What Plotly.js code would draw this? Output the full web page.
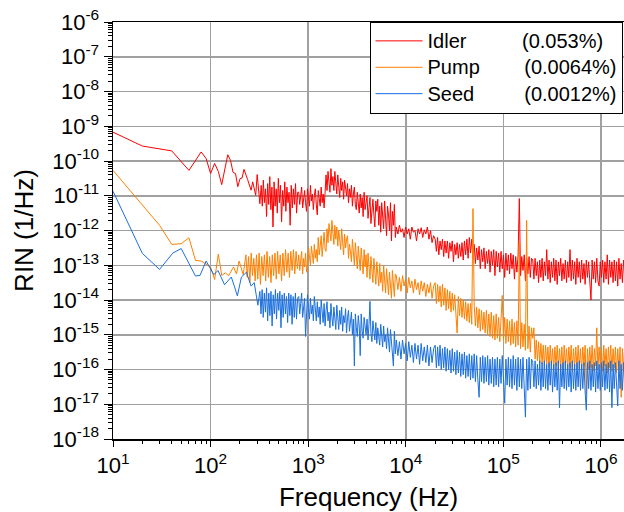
<!DOCTYPE html>
<html><head><meta charset="utf-8">
<script src="https://cdn.plot.ly/plotly-3.0.1.min.js"></script>
<style>html,body{margin:0;padding:0;overflow:hidden;background:#fff}</style>
</head><body><div id="chart" style="width:624px;height:512px"></div>
<script>
// ---------- data (values are log10 of RIN in 1/Hz) ----------
const seriesNames = ['Idler', 'Pump', 'Seed'];
const seriesRms = ['(0.053%)', '(0.0064%)', '(0.0012%)'];
const xTickExp = [1, 2, 3, 4, 5, 6];
const yTickExp = [-18, -17, -16, -15, -14, -13, -12, -11, -10, -9, -8, -7, -6];
// analyzer span edges (Hz) used after the low-frequency points
const spanEdges = [800, 8000, 20000, 200000, 1800000];

const idlerLowF = [10, 20, 40, 60, 80, 90, 100, 110, 120, 130, 150, 160, 170, 180, 190, 200, 210, 220, 240, 260, 270, 290, 300, 320];
const idlerLowY = [-9.17, -9.57, -9.71, -10.27, -9.74, -9.93, -10.36, -10.07, -10.3, -10.68, -9.82, -9.98, -10.33, -10.36, -10.74, -10.51, -10.49, -10.24, -10.54, -10.84, -10.6, -10.99, -10.39, -11.23];
const idlerStart = 330;
const idlerSpan1 = [-10.7,-11.3,-10.55,-11.2,-10.8,-11.6,-10.65,-11.25,-10.45,-11.4,-10.75,-11.9,-10.6,-11.3,-10.8,-11.5,-10.5,-11.2,-10.7,-11.75,-10.85,-11.3,-10.6,-11.45,-10.75,-11.2,-10.9,-11.85,-10.7,-11.35,-10.8,-11.25,-10.65,-11.5,-10.9];
const idlerSpan2 = [-10.9,-11.25,-11.0,-10.75,-11.35,-11.1,-10.85,-11.2,-11.45,-10.8,
  -11.05,-11.3,-10.7,-11.15,-10.95,-11.4,-11.0,-10.8,-11.25,-11.55,
  -10.85,-11.1,-11.3,-10.75,-11.2,-10.95,-11.35,-10.9,-10.4,-10.85,
  -10.3,-10.6,-10.9,-10.22,-10.7,-10.45,-10.85,-10.3,-10.55,-10.95,
  -10.4,-10.75,-11.05,-10.5,-10.85,-10.6,-11.1,-10.55,-10.9,-11.0,
  -10.65,-11.2,-10.8,-11.05,-10.7,-11.3,-10.95,-10.75,-11.25,-11.4,
  -10.9,-11.2,-11.5,-10.95,-11.35,-11.05,-11.6,-10.9,-11.4,-11.2,
  -11.0,-11.65,-11.3,-11.05,-11.8,-11.4,-11.1,-11.55,-11.9,-11.15,
  -11.45,-11.1,-11.85,-11.3,-12.05,-11.2,-11.6,-11.95,-11.15,-11.7,
  -12.15,-11.3,-11.55,-12.0,-11.2,-12.3,-11.45,-11.85,-11.25,-12.2];
const idlerSpan3 = [-11.9,-12.1,-11.85,-12.05,-11.95,-12.2,-11.9,-12.1,-11.95,-12.25,-11.9,-12.05,-12.0,-12.3,-11.95,-12.1,-11.92,-12.2,-11.98,-12.1,-11.9,-12.25,-12.0,-12.35,-12.15];
const idlerSpan4 = [-12.25,-12.6,-12.2,-12.7,-12.3,-12.55,-12.25,-12.75,-12.3,-12.65,
  -12.3,-12.8,-12.35,-12.6,-12.3,-12.9,-12.4,-12.7,-12.35,-12.8,
  -12.4,-12.75,-12.35,-12.85,-12.3,-12.7,-12.25,-12.8,-12.2,-12.65,
  -12.25,-12.8,-12.4,-12.95,-12.5,-12.85,-12.45,-13.1,-12.55,-12.9,
  -12.5,-13.1,-12.6,-12.95,-12.55,-13.2,-12.6,-13.0,-12.55,-13.3,
  -12.6,-13.05,-12.65,-13.2,-12.6,-13.1,-12.7,-13.35,-12.65,-13.15,
  -12.7,-13.25,-12.65,-13.1,-12.7,-13.4,-12.75,-13.2,-12.7,-11.08,
  -13.3,-12.75,-13.15,-12.7,-13.45,-12.8,-13.25,-12.75,-13.35,-12.8];
const idlerSpan5 = [-12.85,-13.4,-12.8,-13.3,-12.9,-13.5,-12.85,-13.35,-12.8,-13.45,
  -12.9,-13.3,-12.55,-13.4,-12.85,-13.5,-12.9,-13.35,-12.8,-13.45,
  -12.85,-13.55,-12.9,-13.3,-12.8,-13.45,-12.95,-13.4,-12.85,-13.5,
  -12.9,-13.35,-12.55,-13.45,-12.85,-13.4,-12.9,-13.55,-12.8,-13.35,
  -12.9,-13.5,-12.85,-13.4,-12.95,-13.55,-12.85,-13.35,-12.9,-13.45,
  -14.0,-12.85,-13.4,-12.9,-13.5,-12.8,-13.45,-13.6,-12.9,-13.35,
  -12.85,-13.5,-12.9,-13.4,-12.7,-13.55,-12.85,-13.35,-12.9,-13.5,
  -12.85,-13.45,-12.9,-13.6,-12.8,-13.4,-12.95,-13.5,-12.85,-13.35];

const pumpLowF = [10, 30, 40, 50, 60, 70, 80, 100, 110, 120, 130, 142, 153, 172, 184, 196, 216];
const pumpLowY = [-10.27, -11.85, -12.4, -12.38, -12.21, -12.86, -12.88, -13.05, -13.41, -12.68, -13.29, -13.22, -13.3, -13.05, -13.25, -12.88, -13.27];
const pumpStart = 230;
const pumpSpan1 = [-12.7,-13.35,-12.75,-13.5,-12.65,-13.3,-12.8,-13.45,-12.7,-13.4,-12.65,-13.55,-12.75,-13.3,-12.7,-13.45,-12.6,-13.35,-12.75,-13.5,-12.7,-13.3,-12.65,-13.4,-12.6,-13.25,-12.7,-13.45,-12.65,-13.3,-12.55,-13.2,-12.65,-13.35,-12.6,-13.15,-12.55,-13.25,-12.6,-13.1];
const pumpSpan2 = [-12.7,-13.15,-12.9,-12.6,-13.25,-12.8,-13.05,-12.65,-13.2,-12.95,
  -12.5,-12.85,-13.0,-12.45,-12.75,-12.95,-12.4,-12.8,-12.55,-12.9,
  -12.2,-12.7,-12.45,-12.15,-12.75,-12.3,-12.05,-12.55,-12.6,-11.95,
  -12.35,-11.8,-12.1,-12.3,-11.71,-12.0,-12.4,-11.85,-12.25,-11.9,
  -12.45,-12.0,-12.2,-12.55,-11.95,-12.35,-12.7,-12.1,-12.5,-12.25,
  -12.15,-12.8,-12.4,-12.6,-12.9,-12.25,-12.7,-13.0,-12.35,-12.65,
  -13.1,-12.45,-12.8,-13.15,-12.5,-12.95,-13.25,-12.55,-13.05,-12.7,
  -13.35,-12.65,-13.0,-13.4,-12.75,-13.2,-13.5,-12.8,-13.1,-13.55,
  -12.9,-13.35,-13.6,-12.95,-13.5,-13.2,-13.75,-13.0,-13.45,-13.8,
  -13.1,-13.6,-13.85,-13.2,-13.5,-13.95,-13.15,-13.7,-13.9,-13.25];
const pumpSpan3 = [-13.3,-13.7,-13.35,-13.75,-13.3,-13.6,-13.4,-13.8,-13.35,-13.65,-13.45,-13.8,-13.4,-13.7,-13.5,-13.85,-13.45,-13.75,-13.5,-13.9,-13.55,-13.8,-13.5,-13.95,-13.6];
const pumpSpan4 = [-13.5,-14.1,-13.55,-14.05,-13.6,-14.2,-13.55,-14.15,-13.65,-14.3,
  -13.7,-14.25,-13.75,-14.35,-13.8,-14.3,-13.85,-14.4,-14.95,-13.9,
  -14.45,-13.95,-14.5,-14.0,-14.55,-14.05,-14.6,-14.1,-14.65,-14.1,
  -14.7,-11.37,-14.15,-14.75,-14.2,-14.8,-14.25,-14.9,-14.3,-14.85,
  -14.35,-14.95,-14.3,-15.0,-14.4,-15.05,-14.35,-15.1,-14.45,-15.15,
  -14.4,-15.1,-14.5,-15.2,-14.45,-13.87,-15.15,-14.5,-15.25,-14.55,
  -15.2,-14.6,-15.3,-14.55,-15.25,-14.65,-15.35,-14.6,-15.3,-12.33,
  -15.4,-14.65,-15.35,-14.7,-15.45,-11.71,-15.4,-14.75,-15.5,-14.8];
const pumpSpan5 = [-15.1,-14.8,-15.7,-15.15,-15.75,-15.2,-15.8,-15.25,-15.85,-15.3,
  -15.9,-15.3,-15.85,-15.35,-15.95,-15.3,-15.9,-15.4,-16.0,-15.35,
  -15.9,-15.3,-16.0,-15.4,-15.95,-15.35,-16.05,-15.3,-15.9,-15.4,
  -16.0,-15.35,-15.95,-15.3,-16.05,-15.4,-15.9,-15.35,-16.0,-15.3,
  -15.95,-15.4,-16.05,-15.35,-15.9,-15.3,-16.7,-15.4,-16.0,-15.35,
  -15.95,-15.3,-16.05,-15.4,-15.9,-14.8,-16.0,-15.35,-15.95,-15.4,
  -16.05,-15.3,-15.9,-15.4,-16.1,-15.35,-15.95,-15.3,-16.05,-15.4,
  -15.95,-15.35,-16.1,-15.4,-16.0,-15.35,-16.8,-15.4,-16.05,-15.3];

const seedLowF = [10, 20, 30, 41, 50, 70, 78, 90, 108, 119, 139, 150, 163, 175, 188, 207, 233, 260, 280, 305];
const seedLowY = [-10.87, -12.66, -13.12, -12.65, -12.52, -13.31, -13.29, -12.88, -13.27, -13.15, -13.56, -13.45, -13.34, -13.6, -13.88, -13.34, -13.2, -13.6, -13.5, -14.15];
const seedStart = 320;
const seedSpan1 = [-13.75,-14.4,-13.7,-14.5,-13.8,-14.35,-13.65,-14.6,-13.8,-14.45,-13.75,-14.75,-13.85,-14.4,-13.7,-14.55,-13.8,-14.3,-13.75,-14.8,-13.85,-14.5,-13.8,-14.4,-13.9,-14.65,-13.8,-14.45,-13.85,-14.7,-13.9,-14.5,-13.8,-14.55,-13.95];
const seedSpan2 = [-13.9,-14.4,-14.1,-13.8,-14.5,-14.2,-13.95,-15.05,-14.3,-13.85,
  -14.25,-14.55,-13.95,-14.4,-14.15,-14.6,-13.9,-14.35,-14.6,-14.05,
  -14.5,-14.2,-14.7,-14.0,-14.45,-14.65,-14.1,-14.75,-14.3,-14.05,
  -14.6,-14.35,-14.8,-14.1,-14.5,-14.75,-14.2,-14.6,-14.85,-14.15,
  -14.55,-14.85,-14.3,-14.7,-14.2,-14.9,-14.45,-14.65,-14.25,-14.95,
  -14.5,-14.3,-14.9,-14.6,-14.35,-15.0,-14.55,-15.9,-14.4,-14.8,
  -15.05,-14.45,-14.75,-15.6,-14.4,-14.9,-15.1,-14.5,-14.85,-15.0,
  -14.55,-15.15,-14.7,-14.04,-14.95,-15.2,-14.6,-14.9,-15.15,-14.65,
  -15.25,-14.8,-15.05,-15.3,-14.7,-15.1,-15.35,-14.75,-15.2,-15.0,
  -15.4,-14.8,-15.25,-15.5,-14.85,-15.3,-15.45,-15.9,-14.9,-15.55];
const seedSpan3 = [-15.15,-15.6,-15.2,-15.7,-15.15,-15.55,-15.25,-15.75,-15.2,-15.65,-15.3,-15.8,-15.25,-15.7,-15.3,-15.85,-15.25,-15.75,-15.35,-15.8,-15.3,-15.9,-15.35,-15.8,-15.4];
const seedSpan4 = [-15.3,-15.95,-15.35,-15.9,-15.3,-16.0,-15.4,-15.95,-15.35,-16.05,
  -15.4,-16.0,-15.45,-16.1,-15.4,-16.05,-15.5,-16.15,-15.45,-16.1,
  -15.5,-16.2,-15.55,-16.15,-15.5,-16.25,-15.6,-16.2,-15.55,-16.3,
  -15.6,-16.25,-15.55,-16.35,-15.6,-16.3,-16.8,-15.65,-16.35,-15.6,
  -16.4,-15.65,-16.35,-15.6,-16.45,-15.7,-16.4,-15.65,-16.5,-15.7,
  -16.45,-15.65,-16.5,-15.7,-16.4,-15.6,-16.55,-16.97,-15.7,-16.45,
  -15.65,-16.5,-15.7,-16.55,-15.6,-16.45,-15.7,-16.6,-15.65,-16.5,
  -15.7,-16.55,-15.65,-16.5,-17.37,-15.7,-16.6,-15.65,-16.55,-15.7];
const seedSpan5 = [-15.8,-16.5,-15.75,-16.55,-15.85,-16.45,-15.75,-16.6,-15.8,-16.5,
  -15.75,-16.55,-15.85,-16.6,-15.8,-16.45,-15.75,-16.65,-15.85,-16.5,
  -15.8,-16.6,-15.75,-17.1,-15.85,-16.5,-15.8,-16.55,-15.75,-16.6,
  -15.85,-16.5,-15.8,-16.65,-15.75,-16.55,-15.85,-16.6,-15.8,-16.5,
  -15.75,-16.6,-15.85,-16.55,-15.8,-16.65,-17.17,-15.8,-16.55,-15.75,
  -16.6,-15.85,-16.5,-15.8,-16.65,-15.75,-16.55,-15.85,-16.6,-15.8,
  -16.5,-15.75,-16.6,-15.85,-16.55,-15.8,-16.65,-15.75,-17.1,-15.85,
  -16.55,-15.8,-16.6,-17.05,-15.75,-16.55,-15.85,-16.6,-15.8,-16.5];

// ---------- assemble ----------
function spanFreqs(f0, f1, n) {
  const out = [];
  for (let i = 0; i < n; i++) out.push(f0 * Math.pow(f1 / f0, i / n));
  return out;
}
function build(lowF, lowY, start, spans) {
  const x = lowF.slice(), y = lowY.map(v => Math.pow(10, v));
  const starts = [start].concat(spanEdges.slice(0, 4));
  spans.forEach((vals, k) => {
    const fs = spanFreqs(starts[k], spanEdges[k], vals.length);
    fs.forEach((f, i) => { x.push(f); y.push(Math.pow(10, vals[i])); });
  });
  return {x, y};
}
const idler = build(idlerLowF, idlerLowY, idlerStart, [idlerSpan1, idlerSpan2, idlerSpan3, idlerSpan4, idlerSpan5]);
const pump = build(pumpLowF, pumpLowY, pumpStart, [pumpSpan1, pumpSpan2, pumpSpan3, pumpSpan4, pumpSpan5]);
const seed = build(seedLowF, seedLowY, seedStart, [seedSpan1, seedSpan2, seedSpan3, seedSpan4, seedSpan5]);

const colors = ['#ff0000', '#ff8000', '#1a6fdf'];
const pads = ['\u00a0'.repeat(10), '\u00a0'.repeat(8), '\u00a0'.repeat(9)];
const traces = [idler, pump, seed].map((s, k) => ({
  type: 'scatter', mode: 'lines', x: s.x, y: s.y,
  name: '<span style="font-size:20px">' + seriesNames[k] + pads[k] + seriesRms[k] + '</span>',
  line: {color: colors[k], width: 1}
}));

function minorVals(e0, e1) {
  const v = [];
  for (let e = e0; e < e1; e++) for (let m = 2; m <= 9; m++) v.push(m * Math.pow(10, e));
  return v;
}
const axisCommon = {
  type: 'log', tickmode: 'array',
  showline: true, linecolor: '#000', linewidth: 1.5,
  ticks: 'outside', tickcolor: '#000', tickwidth: 1,
  showgrid: true, gridcolor: '#a0a0a0', gridwidth: 1.5,
  zeroline: false, tickfont: {size: 22, color: '#000'}
};
const layout = {
  width: 624, height: 512,
  margin: {l: 113, r: 0, t: 22, b: 73, autoexpand: false},
  paper_bgcolor: '#fff', plot_bgcolor: '#fff',
  font: {family: 'Liberation Sans, Arial, sans-serif', color: '#000'},
  showlegend: true,
  legend: {x: 0.502, y: 1.0008, xanchor: 'left', yanchor: 'top', bgcolor: '#fff',
    bordercolor: '#000', borderwidth: 1, font: {size: 18}, itemwidth: 47, tracegroupgap: 0},
  xaxis: Object.assign({}, axisCommon, {
    range: [1, 6.236], mirror: true, ticklen: 6,
    tickvals: xTickExp.map(e => Math.pow(10, e)),
    ticktext: xTickExp.map(e => '10<sup>' + e + '</sup>'),
    minor: {tickmode: 'array', tickvals: minorVals(1, 7), ticks: 'outside', ticklen: 3, tickcolor: '#000', showgrid: false},
    title: {text: 'Frequency (Hz)', font: {size: 26}}
  }),
  yaxis: Object.assign({}, axisCommon, {
    range: [-18, -6], ticklen: 8,
    tickvals: yTickExp.map(e => Math.pow(10, e)),
    ticktext: yTickExp.map(e => '10<sup>' + String(e) + '</sup>'),
    minor: {tickmode: 'array', tickvals: minorVals(-18, -6), ticks: 'outside', ticklen: 4, tickcolor: '#000', showgrid: false},
    title: {text: 'RIN (1/Hz)', font: {size: 26}, standoff: 11}
  })
};
Plotly.newPlot('chart', traces, layout, {displayModeBar: false, staticPlot: true});
</script></body></html>
